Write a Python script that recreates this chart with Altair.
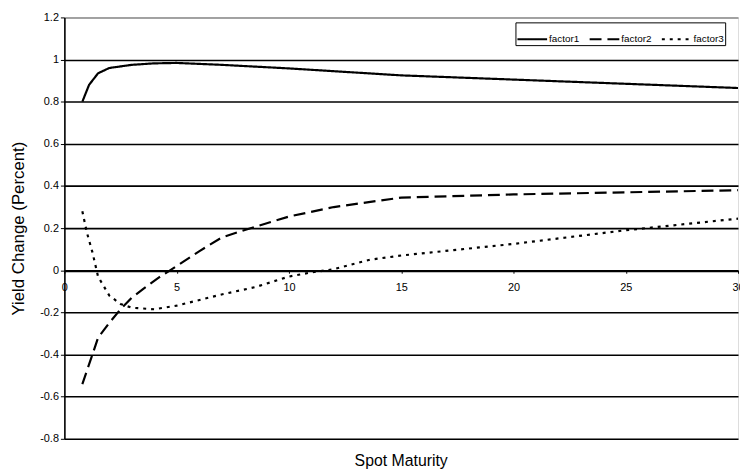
import altair as alt
import pandas as pd

# factor loadings
f1_maturity = [0.8, 1.1, 1.5, 2, 3, 4, 5, 7, 10, 15, 20, 25, 30]
f1_value = [0.80, 0.88, 0.935, 0.96, 0.975, 0.982, 0.984, 0.975, 0.958, 0.925, 0.905, 0.885, 0.865]

f2_maturity = [0.8, 1.25, 1.5, 2, 2.5, 3, 3.5, 4.2, 5, 6, 7, 8, 10, 12, 15, 20, 25, 30]
f2_value = [-0.54, -0.40, -0.32, -0.25, -0.185, -0.13, -0.09, -0.035, 0.02, 0.09, 0.155, 0.19, 0.255, 0.30, 0.345, 0.36, 0.37, 0.38]

f3_maturity = [0.8, 1, 1.25, 1.5, 2, 2.5, 3, 4, 5, 7, 8.5, 10, 11, 12, 13.6, 15, 20, 25, 30]
f3_value = [0.28, 0.18, 0.085, -0.03, -0.12, -0.16, -0.178, -0.185, -0.168, -0.115, -0.08, -0.03, -0.01, 0.005, 0.05, 0.07, 0.125, 0.19, 0.245]

series_names = ["factor1", "factor2", "factor3"]
y_ticks = [1.2, 1.0, 0.8, 0.6, 0.4, 0.2, 0.0, -0.2, -0.4, -0.6, -0.8]
x_ticks = [0, 5, 10, 15, 20, 25, 30]

rows = []
for name, ms, vs in zip(series_names, [f1_maturity, f2_maturity, f3_maturity], [f1_value, f2_value, f3_value]):
    for i, (m, v) in enumerate(zip(ms, vs)):
        rows.append({"factor": name, "maturity": m, "value": v, "order": i})
df = pd.DataFrame(rows)

FONT = "Liberation Sans"
W, H = 681, 426

chart = alt.Chart(df).mark_line(color="black", strokeWidth=2.2, clip=True).encode(
    x=alt.X("maturity:Q",
            scale=alt.Scale(domain=[0, 30], nice=False, zero=False),
            axis=alt.Axis(values=x_ticks, title=None, grid=False, domain=False,
                          offset=-170.4, tickColor="black", tickSize=3, tickWidth=1,
                          labelFont=FONT, labelFontSize=11, labelColor="black",
                          labelPadding=8, labelFlush=False, labelOverlap=False)),
    y=alt.Y("value:Q",
            scale=alt.Scale(domain=[-0.8, 1.2], nice=False, zero=False),
            axis=alt.Axis(values=y_ticks, title="Yield Change (Percent)",
                          labelExpr="replace(format(datum.value, '.1~f'), '\u2212', '-')",
                          grid=True,
                          gridColor=alt.condition("datum.value == 1.2", alt.value("#888888"), alt.value("black")),
                          gridWidth=alt.condition("datum.value == 0", alt.value(2.2), alt.value(1.6)),
                          domainColor="black", domainWidth=1.6,
                          tickColor="black", tickSize=4, tickWidth=1,
                          labelFont=FONT, labelFontSize=11, labelColor="black", labelPadding=2,
                          titleFont=FONT, titleFontSize=17, titleFontWeight="normal",
                          titleColor="black", titlePadding=12, labelFlush=False)),
    strokeDash=alt.StrokeDash("factor:N",
                              scale=alt.Scale(domain=series_names, range=[[1, 0], [12, 6], [3, 5]]),
                              legend=alt.Legend(title=None, orient="none", legendX=456, legendY=5,
                                                direction="horizontal", strokeColor="black",
                                                fillColor="white", padding=1,
                                                symbolType="stroke", symbolSize=900,
                                                symbolStrokeWidth=2, symbolStrokeColor="black",
                                                labelFont=FONT, labelFontSize=10, labelColor="black",
                                                labelOffset=1, columnPadding=6)),
    order="order:Q",
).properties(
    width=W, height=H,
    title=alt.TitleParams("Spot Maturity", orient="bottom", offset=9, font=FONT,
                          fontSize=16, fontWeight="normal", color="black"),
    autosize=alt.AutoSizeParams(type="none"),
    padding={"left": 57, "top": 7, "right": 2, "bottom": 30},
).configure_view(stroke=None).configure(background="white")

chart.save("out.html", embed_options={"renderer": "svg", "actions": False})
